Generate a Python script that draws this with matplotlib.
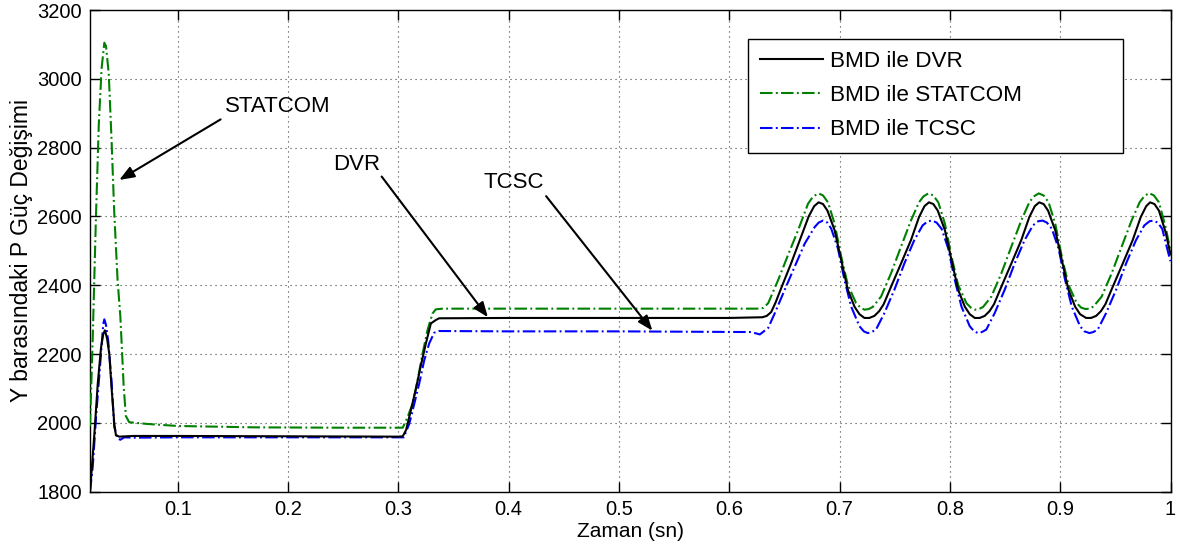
import matplotlib
matplotlib.use("Agg")
import matplotlib.pyplot as plt

plt.rcParams['font.family'] = ['Liberation Sans', 'DejaVu Sans']

# ---- data: bus P power variation (time in s, power) ----
t_dvr = [0.0205, 0.0245, 0.0275, 0.0305, 0.0325, 0.034, 0.036, 0.038, 0.040, 0.0425,
         0.044, 0.047, 0.06, 0.1, 0.2, 0.3, 0.304, 0.307, 0.3114, 0.316, 0.3205, 0.325,
         0.3295, 0.334, 0.337, 0.40, 0.50, 0.60, 0.630,
         0.634, 0.638, 0.642, 0.647, 0.656, 0.665, 0.672, 0.677, 0.681, 0.685, 0.689,
         0.6955, 0.7015, 0.7075, 0.7135, 0.718, 0.7225, 0.727, 0.7316, 0.736, 0.740,
         0.7467, 0.7557, 0.7647, 0.772, 0.777, 0.781, 0.785, 0.789, 0.7955, 0.8015,
         0.8075, 0.8135, 0.818, 0.8225, 0.827, 0.8316, 0.836, 0.840, 0.8467, 0.8557,
         0.8647, 0.872, 0.877, 0.881, 0.885, 0.889, 0.8955, 0.9015, 0.9075, 0.9135,
         0.918, 0.9235, 0.928, 0.9326, 0.937, 0.941, 0.9477, 0.9567, 0.9657, 0.973,
         0.978, 0.9815, 0.9855, 0.9895, 0.9955, 1.000]
p_dvr = [1800, 1969, 2113, 2219, 2258, 2269, 2245, 2200, 2104, 1998,
         1964, 1960, 1962, 1962, 1961, 1960, 1961, 1979, 2037, 2100, 2168, 2231,
         2289, 2299, 2304, 2305, 2305, 2305, 2307,
         2311, 2322, 2350, 2391, 2463, 2540, 2600, 2630, 2641, 2636, 2617,
         2560, 2473, 2387, 2338, 2316, 2305, 2305, 2311, 2325, 2345,
         2396, 2463, 2531, 2598, 2630, 2641, 2636, 2617, 2560, 2473,
         2387, 2338, 2316, 2305, 2305, 2311, 2325, 2345, 2396, 2463,
         2531, 2598, 2630, 2641, 2636, 2617, 2560, 2473, 2387, 2338,
         2316, 2305, 2305, 2311, 2325, 2345, 2396, 2463, 2531, 2598,
         2630, 2641, 2636, 2617, 2555, 2490]

t_statcom = [0.0205, 0.023, 0.0259, 0.0285, 0.031, 0.0335, 0.035, 0.0375, 0.040, 0.0425,
             0.0455, 0.048, 0.0495, 0.051, 0.053, 0.056, 0.072, 0.1, 0.17, 0.25,
             0.304, 0.3084, 0.313, 0.3175, 0.322, 0.3265, 0.331, 0.334, 0.34, 0.5,
             0.625, 0.631,
             0.6353, 0.6443, 0.6533, 0.6624, 0.6714, 0.676, 0.681, 0.685, 0.6895, 0.6955,
             0.7015, 0.7075, 0.715, 0.719, 0.7226, 0.7265, 0.7301, 0.7376, 0.7467, 0.7557,
             0.7647, 0.772, 0.776, 0.7805, 0.785, 0.7895, 0.7955, 0.8015, 0.8075, 0.815,
             0.819, 0.8226, 0.8265, 0.8301, 0.8376, 0.8467, 0.8557, 0.8647, 0.872, 0.876,
             0.8805, 0.885, 0.8895, 0.8955, 0.9015, 0.9075, 0.915, 0.919, 0.9229, 0.9265,
             0.9301, 0.9376, 0.9467, 0.9557, 0.9647, 0.972, 0.976, 0.9805, 0.985, 0.9895,
             0.9955, 1.000]
p_statcom = [1990, 2250, 2600, 2870, 3030, 3105, 3095, 3015, 2825, 2610,
             2415, 2310, 2210, 2108, 2020, 2002, 1997, 1991, 1987, 1986,
             1986, 2017, 2056, 2124, 2202, 2270, 2318, 2330, 2332, 2332,
             2332, 2334,
             2348, 2415, 2488, 2560, 2637, 2658, 2667, 2661, 2641, 2579,
             2483, 2401, 2348, 2335, 2329, 2331, 2337, 2367, 2435, 2512,
             2588, 2641, 2658, 2667, 2661, 2641, 2579, 2483, 2401, 2348,
             2335, 2329, 2331, 2337, 2367, 2435, 2512, 2588, 2641, 2658,
             2667, 2661, 2641, 2579, 2483, 2401, 2348, 2335, 2331, 2332,
             2338, 2367, 2435, 2512, 2588, 2641, 2658, 2668, 2661, 2641,
             2570, 2500]

t_tcsc = [0.0205, 0.023, 0.026, 0.030, 0.0325, 0.0335, 0.035, 0.037, 0.040, 0.0425,
          0.0455, 0.048, 0.0515, 0.06, 0.1, 0.2, 0.305, 0.31, 0.3145, 0.319,
          0.3235, 0.328, 0.3325, 0.337, 0.4, 0.5, 0.62, 0.6277,
          0.6353, 0.6413, 0.6503, 0.6593, 0.6684, 0.6774, 0.681, 0.685, 0.689, 0.6925,
          0.6985, 0.7045, 0.7105, 0.718, 0.722, 0.7256, 0.729, 0.733, 0.7406, 0.7497,
          0.7587, 0.7677, 0.7753, 0.780, 0.784, 0.788, 0.7925, 0.7985, 0.8045, 0.8105,
          0.818, 0.822, 0.8256, 0.829, 0.833, 0.8406, 0.8497, 0.8587, 0.8677, 0.8753,
          0.880, 0.884, 0.888, 0.8925, 0.8985, 0.9045, 0.9105, 0.918, 0.922, 0.9266,
          0.930, 0.934, 0.9416, 0.9507, 0.9597, 0.9687, 0.9763, 0.981, 0.9845, 0.9885,
          0.9925, 0.9975, 1.000]
p_tcsc = [1800, 1873, 2017, 2181, 2287, 2301, 2285, 2238, 2123, 1988,
          1955, 1951, 1958, 1957, 1958, 1958, 1958, 1998, 2056, 2115,
          2182, 2231, 2262, 2267, 2266, 2266, 2264, 2257,
          2276, 2319, 2387, 2454, 2521, 2569, 2582, 2588, 2582, 2564,
          2507, 2415, 2338, 2281, 2266, 2261, 2264, 2271, 2319, 2387,
          2463, 2531, 2574, 2586, 2588, 2582, 2564, 2507, 2415, 2338,
          2281, 2266, 2261, 2264, 2271, 2319, 2387, 2463, 2531, 2574,
          2586, 2588, 2582, 2564, 2507, 2415, 2338, 2281, 2266, 2261,
          2264, 2271, 2319, 2387, 2463, 2531, 2574, 2586, 2588, 2582,
          2564, 2500, 2470]

series_labels = ['BMD ile DVR', 'BMD ile STATCOM', 'BMD ile TCSC']
x_ticks = [0.1, 0.2, 0.3, 0.4, 0.5, 0.6, 0.7, 0.8, 0.9, 1.0]
x_tick_labels = ['0.1', '0.2', '0.3', '0.4', '0.5', '0.6', '0.7', '0.8', '0.9', '1']
y_ticks = [1800, 2000, 2200, 2400, 2600, 2800, 3000, 3200]

# ---- figure ----
fig = plt.figure(figsize=(11.8, 5.49), dpi=100)
ax = fig.add_axes([90 / 1180, 1 - 491.7 / 549, 1080.5 / 1180, 481.7 / 549])

dashdot = (0, (6, 1.6, 0.9, 1.6))
ax.plot(t_dvr, p_dvr, color='black', lw=1.5, label=series_labels[0], zorder=4)
ax.plot(t_statcom, p_statcom, color=(0, 0.5, 0), lw=1.5, linestyle=dashdot,
        label=series_labels[1], zorder=3)
ax.plot(t_tcsc, p_tcsc, color=(0, 0, 1), lw=1.5, linestyle=dashdot,
        label=series_labels[2], zorder=3)

ax.set_xlim(0.0205, 1.0)
ax.set_ylim(1800, 3200)
ax.set_xticks(x_ticks)
ax.set_xticklabels(x_tick_labels)
ax.set_yticks(y_ticks)

ax.grid(True, color='0.25', linestyle=(0, (1, 3.5)), linewidth=0.8)
ax.tick_params(direction='in', length=7, width=1.0, top=True, right=True,
               labelsize=14.5, pad=6)
for s in ax.spines.values():
    s.set_linewidth(1.0)

ax.set_xlabel('Zaman (sn)', fontsize=15, labelpad=2)
ax.set_ylabel('Y barasındaki P Güç Değişimi', fontsize=16.5, labelpad=3)

# annotations with arrows
arrow_kw = dict(arrowstyle='-|>,head_length=0.9,head_width=0.35', color='black',
                lw=1.5, shrinkA=0, shrinkB=0)
ax.annotate('', xy=(0.047, 2706), xytext=(0.1389, 2882), arrowprops=arrow_kw)
ax.text(0.191, 2920, 'STATCOM', fontsize=16, ha='center', va='center')
ax.annotate('', xy=(0.3812, 2307), xytext=(0.2849, 2716), arrowprops=arrow_kw)
ax.text(0.2626, 2752, 'DVR', fontsize=16, ha='center', va='center')
ax.annotate('', xy=(0.5303, 2268), xytext=(0.434, 2659), arrowprops=arrow_kw)
ax.text(0.4044, 2699, 'TCSC', fontsize=16, ha='center', va='center')

# legend box spans a fixed width with text left-aligned inside
leg_x0 = (748 - 90) / 1080.5
leg_w = (1123 - 748) / 1080.5
leg = ax.legend(loc='upper left', bbox_to_anchor=(leg_x0, 0.0, leg_w, 0.94),
                mode='expand', fontsize=16.2,
                frameon=True, fancybox=False, framealpha=1, edgecolor='black',
                handlelength=2.8, handletextpad=0.3, labelspacing=0.58,
                borderpad=0.55, borderaxespad=0)
leg.get_frame().set_linewidth(1.0)

fig.savefig('out.png', dpi=100)
